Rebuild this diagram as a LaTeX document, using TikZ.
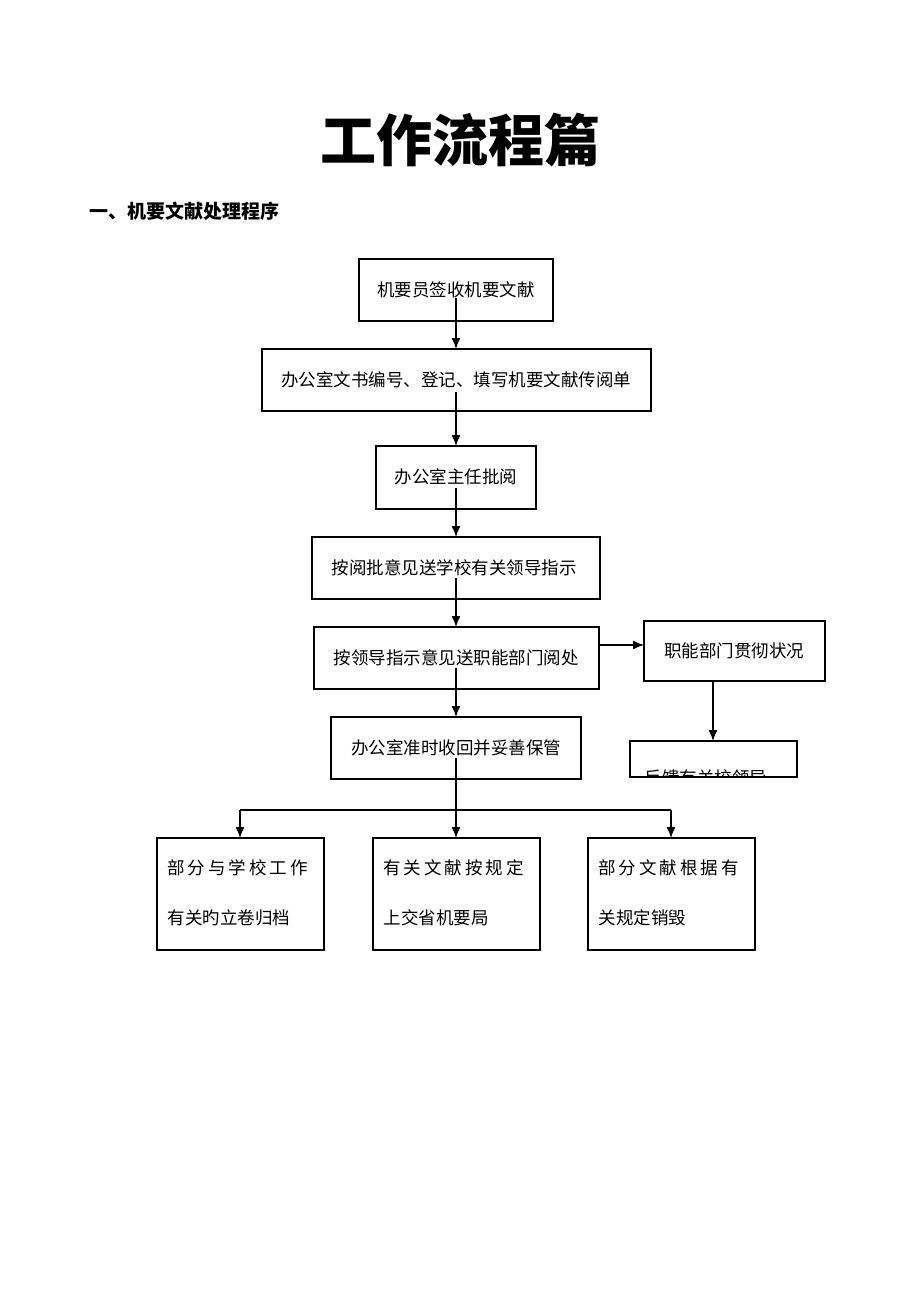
\documentclass[tikz,border=0pt]{standalone}
\usetikzlibrary{arrows.meta}
\usepackage{fontspec}
\setmainfont{Noto Sans CJK SC}
\newfontfamily\cjk{Noto Sans CJK SC}
\begin{document}
\begin{tikzpicture}[x=1pt,y=-1pt,
 box/.style={draw,line width=1.1pt},
 lbl/.style={font=\fontsize{17.5}{19}\selectfont},
 arr/.style={line width=1.3pt,-{Latex[length=11pt,width=9pt]}},
 ln/.style={line width=1.3pt}]
\useasboundingbox (0,0) rectangle (920,1302);
\node (title) at (460,140) {\fontsize{56}{60}\selectfont\bfseries 工作流程篇};
\node[anchor=west] (head) at (86,211) {\fontsize{19}{21}\selectfont\bfseries 一、机要文献处理程序};
\draw[box] (359,259) rectangle (553,321); \node[lbl] (b1) at (456,290) {机要员签收机要文献};
\draw[box] (262,349) rectangle (651,411); \node[lbl] (b2) at (456,380) {办公室文书编号、登记、填写机要文献传阅单};
\draw[box] (376,446) rectangle (536,509); \node[lbl] (b3) at (456,477) {办公室主任批阅};
\draw[box] (312,537) rectangle (600,599); \node[lbl] (b4) at (454,568) {按阅批意见送学校有关领导指示};
\draw[box] (314,627) rectangle (599,689); \node[lbl] (b5) at (456,658) {按领导指示意见送职能部门阅处};
\draw[box] (331,717) rectangle (581,779); \node[lbl] (b6) at (456,748) {办公室准时收回并妥善保管};
\draw[box] (644,621) rectangle (825,681); \node[lbl] (r1) at (734,651) {职能部门贯彻状况};
\draw[box] (630,741) rectangle (797,777);
\begin{scope}
\clip (630,741) rectangle (797,776);
\node[lbl,anchor=west] (r2) at (641,778) {反馈有关校领导};
\end{scope}
\draw[box] (157,838) rectangle (324,950);
\node[lbl,anchor=north west,align=left,text width=160pt,font=\fontsize{17.5}{50}\selectfont] (c1) at (164,856) {部\,分\,与\,学\,校\,工\,作\\有关旳立卷归档};
\draw[box] (373,838) rectangle (540,950);
\node[lbl,anchor=north west,align=left,text width=160pt,font=\fontsize{17.5}{50}\selectfont] (c2) at (380,856) {有\,关\,文\,献\,按\,规\,定\\上交省机要局};
\draw[box] (588,838) rectangle (755,950);
\node[lbl,anchor=north west,align=left,text width=160pt,font=\fontsize{17.5}{50}\selectfont] (c3) at (595,856) {部\,分\,文\,献\,根\,据\,有\\关规定销毁};
\coordinate (a1) at (456,298); \coordinate (t2) at (456,349);
\coordinate (a2) at (456,392); \coordinate (t3) at (456,446);
\coordinate (a3) at (456,488); \coordinate (t4) at (456,537);
\coordinate (a4) at (456,578); \coordinate (t5) at (456,627);
\coordinate (a5) at (456,668); \coordinate (t6) at (456,717);
\draw[arr] (a1)--(t2); \draw[arr] (a2)--(t3); \draw[arr] (a3)--(t4);
\draw[arr] (a4)--(t5); \draw[arr] (a5)--(t6);
\coordinate (s5) at (599,645); \coordinate (e5) at (644,645);
\draw[arr] (s5)--(e5);
\coordinate (s6) at (713,681); \coordinate (e6) at (713,741);
\draw[arr] (s6)--(e6);
\coordinate (a6) at (456,758); \coordinate (j) at (456,810);
\coordinate (jl) at (240,810); \coordinate (jr) at (671,810);
\draw[ln] (a6)--(j); \draw[ln] (jl)--(jr);
\draw[arr] (jl)--(240,838); \draw[arr] (j)--(456,838); \draw[arr] (jr)--(671,838);
\end{tikzpicture}
\end{document}
